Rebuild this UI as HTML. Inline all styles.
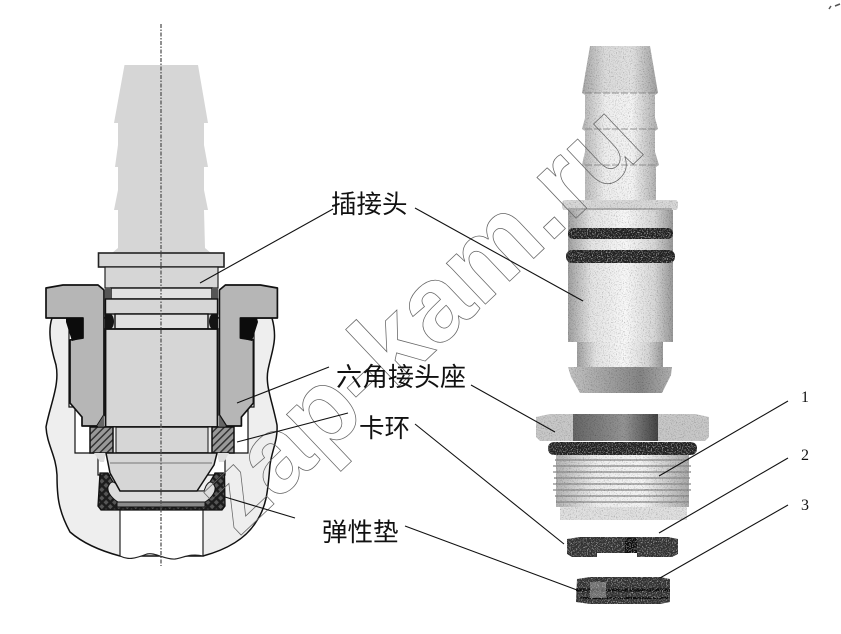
<!DOCTYPE html>
<html><head><meta charset="utf-8"><style>
html,body{margin:0;padding:0;background:#fff}
svg{display:block}
.c{font-family:"Liberation Sans","Noto Sans CJK SC",sans-serif;font-size:25.5px;fill:#111}
.n{font-family:"Liberation Serif",serif;font-size:16px;fill:#111}
</style></head><body>
<svg width="841" height="634" viewBox="0 0 841 634" xmlns="http://www.w3.org/2000/svg">
<defs>
<pattern id="h" width="5" height="5" patternUnits="userSpaceOnUse" patternTransform="rotate(-45)"><rect width="5" height="5" fill="#999"/><rect width="5" height="1.5" fill="#333"/></pattern>
<pattern id="x" width="6" height="6" patternUnits="userSpaceOnUse" patternTransform="rotate(45)"><rect width="6" height="6" fill="#555"/><rect width="6" height="2.4" fill="#1c1c1c"/><rect width="2.4" height="6" fill="#1c1c1c"/></pattern>
<linearGradient id="b" x1="0" x2="1" y1="0" y2="0"><stop offset="0" stop-color="#a0a0a0"/><stop offset=".22" stop-color="#e4e4e4"/><stop offset=".55" stop-color="#f8f8f8"/><stop offset=".82" stop-color="#d8d8d8"/><stop offset="1" stop-color="#999"/></linearGradient>
<linearGradient id="t" x1="0" x2="1" y1="0" y2="0"><stop offset="0" stop-color="#b4b4b4"/><stop offset=".3" stop-color="#eee"/><stop offset=".65" stop-color="#f4f4f4"/><stop offset="1" stop-color="#aaa"/></linearGradient>
<linearGradient id="hd" x1="0" x2="1" y1="0" y2="0"><stop offset="0" stop-color="#c4c4c4"/><stop offset=".7" stop-color="#858585"/><stop offset="1" stop-color="#b0b0b0"/></linearGradient>
<linearGradient id="nut" x1="0" x2="1" y1="0" y2="0"><stop offset="0" stop-color="#666"/><stop offset=".6" stop-color="#959595"/><stop offset="1" stop-color="#444"/></linearGradient>
<filter id="g" x="0" y="0" width="100%" height="100%"><feTurbulence type="fractalNoise" baseFrequency="0.85" numOctaves="2" seed="4" result="n"/><feColorMatrix in="n" type="matrix" values="0 0 0 0 0 0 0 0 0 0 0 0 0 0 0 1.500 0 0 0 -.75"/><feComposite in2="SourceAlpha" operator="in" result="d"/><feMerge><feMergeNode in="SourceGraphic"/><feMergeNode in="d"/></feMerge></filter>
<filter id="w" x="0" y="0" width="100%" height="100%"><feTurbulence type="fractalNoise" baseFrequency="0.8" numOctaves="2" seed="9" result="n"/><feColorMatrix in="n" type="matrix" values="0 0 0 0 1 0 0 0 0 1 0 0 0 0 1 1.400 0 0 0 -.75"/><feComposite in2="SourceAlpha" operator="in" result="d"/><feMerge><feMergeNode in="SourceGraphic"/><feMergeNode in="d"/></feMerge></filter>
</defs>
<rect width="841" height="634" fill="#fff"/>

<!-- housing -->
<path d="M52 318C48 330 50 345 56 365C60 385 50 405 46 427C47 445 56 455 57 475C57 495 58 510 70 532C85 545 105 552 120 556H203C225 550 245 540 256 522C268 505 268 485 270 465C272 450 278 440 277 425C272 400 265 385 268 370C272 350 278 340 272 318Z" fill="#eee" stroke="#111" stroke-width="1.500"/>
<path d="M120 505H203V556C190 553 183 558 175 559C165 560 155 552 147 554C134 559 128 560 120 556Z" fill="#fff" stroke="#222" stroke-width="1.200"/>
<path d="M69 318V407H75V453H98V475H225V453H248V407H254V318Z" fill="#fff" stroke="#111" stroke-width="1.200"/>

<!-- barbed stem -->
<path d="M124.500 65H198L208 123H204V145L208 167H204V190L208 210H204L205 248L211 253H112L118 248V210H114L118 190V167H115L118 145V123H114Z" fill="#d6d6d6"/>
<!-- male body -->
<rect x="98.500" y="253" width="125.500" height="14" fill="#d6d6d6" stroke="#222" stroke-width="1.600"/>
<rect x="105" y="267" width="113" height="21" fill="#d6d6d6" stroke="#222" stroke-width="1.200"/>
<rect x="105" y="288" width="113" height="139" fill="#d6d6d6"/>
<rect x="111" y="288" width="101" height="11" fill="#e2e2e2" stroke="#111" stroke-width="1.400"/>
<rect x="105" y="288" width="6" height="11" fill="#555"/><rect x="212" y="288" width="6" height="11" fill="#555"/>
<rect x="105.500" y="299" width="112" height="15" fill="#d6d6d6" stroke="#111" stroke-width="1.400"/>
<rect x="115" y="314" width="93" height="15" fill="#e0e0e0" stroke="#111" stroke-width="1.400"/>
<path d="M105 314H111C115 317 115 326 111 329H105Z M218 314H212C208 317 208 326 212 329H218Z" fill="#141414"/>
<rect x="105.500" y="329" width="112" height="98" fill="#d6d6d6" stroke="#111" stroke-width="1.800"/>

<!-- hex seat -->
<g fill="#b6b6b6" stroke="#111" stroke-width="1.700" stroke-linejoin="round">
<path d="M46 288L63 285H98L104 290V415L97 426H82V417L70 403V340L83 338V318H46Z"/>
<path d="M277.400 288L260.400 285H225.400L219.400 290V415L226.400 426H241.400V417L253.400 403V340L240.400 338V318H277.400Z"/>
</g>
<path d="M104 415L97 426H104Z M219 415L226 426H219Z" fill="#666"/>
<path d="M66 318H83V338L72 341L66 322Z M257 318H240V338L252 341L258 322Z" fill="#0c0c0c"/>

<!-- lower sleeve and hatched clip rings -->
<rect x="113" y="427" width="97" height="26" fill="#d6d6d6" stroke="#111" stroke-width="1.500"/>
<rect x="112" y="427" width="4" height="26" fill="#eee" stroke="#111" stroke-width="1"/>
<rect x="208" y="427" width="4" height="26" fill="#eee" stroke="#111" stroke-width="1"/>
<rect x="90" y="427" width="23" height="26" fill="url(#h)" stroke="#111" stroke-width="1.500"/>
<rect x="212" y="427" width="22" height="26" fill="url(#h)" stroke="#111" stroke-width="1.500"/>
<path d="M94 453H106L104 462H100Z M229 453H217L219 462H224Z" fill="#ddd"/>

<!-- gasket -->
<path d="M100 473H108C110 478 114 482 117 491H206C209 482 213 478 215 473H224.500L225 506L222 510H101L98 506Z" fill="url(#x)" stroke="#111" stroke-width="1.300"/>
<path d="M108 487C111 480 114 481 118 486L120 491H204L206 486C209 481 212 480 215 487C216 493 210 499 205 502H118C113 499 107 493 108 487Z" fill="#dcdcdc" stroke="#111" stroke-width="1"/>
<rect x="117" y="502" width="88" height="5" fill="#8a8a8a" stroke="#111" stroke-width="1"/>
<path d="M106 453H217L214 465L197 491H120L110 473Z" fill="#d6d6d6" stroke="#111" stroke-width="1.500"/>
<path d="M110 463H212" stroke="#777" stroke-width="1.100"/>
<path d="M161 24V566" stroke="#555" stroke-width="1.300" stroke-dasharray="4 1.500 1.500 1.500"/>

<!-- right photo: connector -->
<g filter="url(#g)">
<path d="M590 46H650L658 93L655 95V118L658 129L655 131V152L659 165L656 167V200H585V167L582 165L585 152V131L582 129L585 118V95L582 93Z" fill="url(#t)"/>
<path d="M590 46H650L658 93H582Z" fill="#000" opacity=".08"/>
<rect x="562" y="200" width="116" height="10" rx="3" fill="#d8d8d8"/>
<rect x="568" y="210" width="105" height="132" fill="url(#b)"/>
<rect x="577" y="342" width="86" height="25" fill="url(#b)"/>
<path d="M568 367H672L671 375L662 393H580L571 377Z" fill="url(#hd)"/>
</g>
<g filter="url(#w)">
<rect x="568" y="228" width="105" height="11" rx="5" fill="#222"/>
<rect x="566" y="250" width="109" height="13" rx="6" fill="#222"/>
</g>
<path d="M585 93H656M585 129H656M585 165H656" stroke="#777" stroke-width=".8" stroke-dasharray="7 2"/>
<path d="M568 209H672" stroke="#666" stroke-width=".8"/>

<!-- right photo: nut -->
<g filter="url(#g)">
<path d="M536 417L550 414H695L709 417V437L705 441H540L536 437Z" fill="#c8c8c8"/>
<rect x="573" y="414" width="85" height="27" fill="url(#nut)"/>
<rect x="560" y="507" width="127" height="13" fill="#e0e0e0"/>
<rect x="556" y="455" width="133" height="52" fill="url(#t)"/>
<path d="M555 460H689M553 466H691M553 472H691M554 478H690M553 484H691M553 490H691M555 496H689M556 502H689" stroke="#8a8a8a" stroke-width="1.300" fill="none"/>
</g>
<g filter="url(#w)">
<rect x="548" y="442" width="149" height="13" rx="6" fill="#222"/>
<path d="M567 539L580 537H668L678 539V554L672 557H637V553H597V557H572L567 554Z" fill="#333"/>
<rect x="625" y="538" width="12" height="15" fill="#111"/>
<path d="M577 579L590 577H660L670 579V602L660 604H590L576 602Z" fill="#333"/>
<path d="M576 590H670" stroke="#111" stroke-width="3"/>
<path d="M580 598H668" stroke="#111" stroke-width="2"/>
<rect x="590" y="582" width="16" height="16" fill="#999" opacity=".6"/>
</g>

<!-- watermark -->
<text transform="translate(238 538) rotate(-43.400)" font-family="Liberation Sans, sans-serif" font-weight="bold" font-size="107" fill="none" stroke="#666" stroke-width=".75">zap-kam.ru</text>

<!-- leaders -->
<g stroke="#111" stroke-width="1.100" fill="none">
<path d="M200 283L333 209"/><path d="M415 208L583 301"/>
<path d="M237 403L329 367"/><path d="M471 385L555 432"/>
<path d="M237 442L348 413"/><path d="M415 424L564 544"/>
<path d="M225 497L295 518"/><path d="M405 526L577 590"/>
<path d="M788 401L659 476"/><path d="M788 458L659 533"/><path d="M788 505L660 578"/>
</g>

<!-- labels -->
<text class="c" x="331" y="213">插接头</text>
<text class="c" x="336" y="386" style="font-size:26px">六角接头座</text>
<text class="c" x="359" y="437">卡环</text>
<text class="c" x="322" y="541">弹性垫</text>
<text class="n" x="801" y="402">1</text>
<text class="n" x="801" y="460">2</text>
<text class="n" x="801" y="510">3</text>

<!-- specks -->
<path d="M829 9L831 6M835 6L840 4" stroke="#555" stroke-width="1.500"/>
</svg>
</body></html>
